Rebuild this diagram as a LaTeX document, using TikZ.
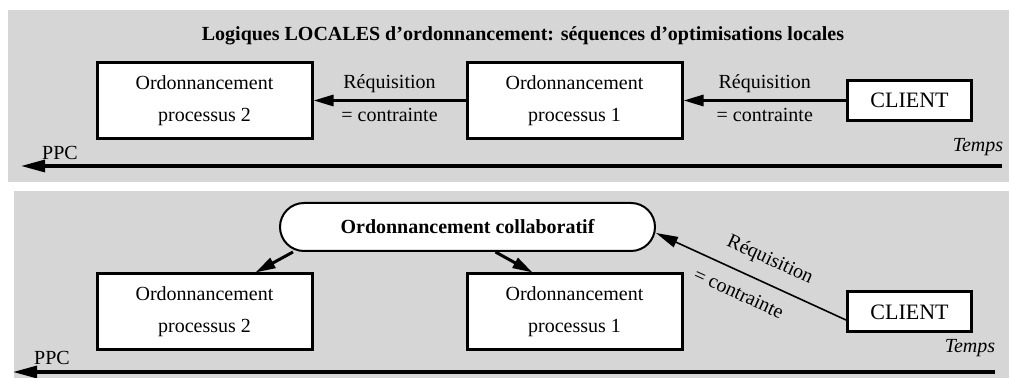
\documentclass[tikz,border=0pt]{standalone}
\usepackage{fontspec}
\setmainfont{Liberation Serif}
\usetikzlibrary{arrows.meta,positioning,calc}
\usepackage{xcolor}
\definecolor{fondgris}{RGB}{214,214,214}

\begin{document}
\begin{tikzpicture}[x=0.5pt, y=-0.5pt, node distance=185pt,
    box/.style={rectangle, draw, line width=1.5pt, fill=white, minimum width=107.5pt, minimum height=38pt, align=center, font=\fontsize{10}{16}\selectfont},
    client/.style={rectangle, draw, line width=1.5pt, fill=white, minimum width=62pt, minimum height=20pt, font=\fontsize{11}{13}\selectfont},
    collab/.style={rectangle, draw, line width=1pt, fill=white, rounded corners=12pt, minimum width=187.5pt, minimum height=24pt, font=\bfseries\fontsize{10}{12}\selectfont},
    fleche/.style={line width=1.5pt, -{Triangle[length=10pt,width=5.5pt]}},
    fine/.style={line width=0.8pt, -{Triangle[length=11pt,width=5.5pt]}},
    axe/.style={line width=1.6pt, -{Triangle[length=12pt,width=6pt]}},
    lbl/.style={font=\fontsize{10}{12}\selectfont},
    temps/.style={font=\itshape\fontsize{10}{12}\selectfont}]

    \useasboundingbox (0,0) rectangle (1009,378);
    \fill[fondgris] (8,10) rectangle (1009,182);
    \fill[fondgris] (14,191) rectangle (1009,378);

    % logiques locales
    \node[font=\bfseries\fontsize{10}{12}\selectfont] (titre) at (523,36) {Logiques LOCALES d'ordonnancement: séquences d'optimisations locales};
    \node[box] (p2h) at (204.5,100.5) {Ordonnancement\\processus 2};
    \node[box, right of=p2h] (p1h) {Ordonnancement\\processus 1};
    \node[client, right of=p1h, node distance=167.5pt] (clh) {CLIENT};

    \draw[fleche] (p1h) -- (p2h) node[lbl, midway, above] {Réquisition} node[lbl, midway, below] {= contrainte};
    \draw[fleche] (clh) -- (p1h) node[lbl, midway, above] {Réquisition} node[lbl, midway, below] {= contrainte};

    \coordinate (finh) at (1002,166);
    \coordinate (origh) at (21,166);
    \draw[axe] (finh) -- (origh);
    \node[lbl] (ppch) at (60,153) {PPC};
    \node[temps] (tempsh) at (978,147) {Temps};

    % ordonnancement collaboratif
    \node[collab] (colb) at (467.5,227) {Ordonnancement collaboratif};
    \node[box, below of=p2h, node distance=105.75pt] (p2b) {Ordonnancement\\processus 2};
    \node[box, below of=p1h, node distance=105.75pt] (p1b) {Ordonnancement\\processus 1};
    \node[client, below of=clh, node distance=105.75pt] (clb) {CLIENT};

    \draw[fleche] ([xshift=7pt]colb.south west) -- ([xshift=-29pt]p2b.north east);
    \draw[fleche] ([xshift=14pt]colb.south) -- ([xshift=-21pt]p1b.north);
    \draw[fine] ([yshift=-4pt]clb.west) -- ([yshift=-3pt]colb.east)
        node[lbl, pos=0.45, sloped, above=3pt] {Réquisition}
        node[lbl, pos=0.52, sloped, below=3pt] {= contrainte};

    \coordinate (finb) at (995,372);
    \coordinate (origb) at (13,372);
    \draw[axe] (finb) -- (origb);
    \node[lbl] (ppcb) at (52,358) {PPC};
    \node[temps] (tempsb) at (970,348) {Temps};
\end{tikzpicture}
\end{document}
